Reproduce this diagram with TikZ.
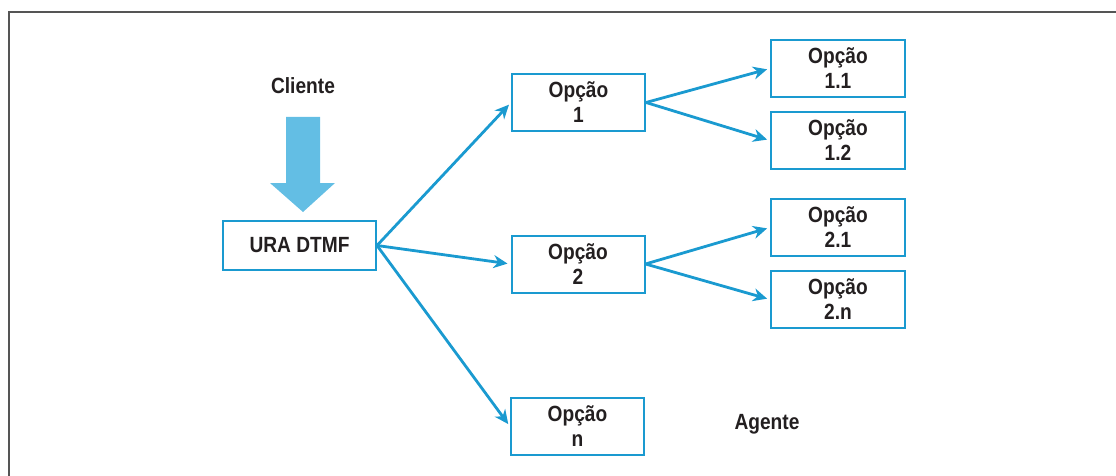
\documentclass[tikz,border=0pt]{standalone}
\usepackage{fontspec}
\setmainfont{Liberation Sans}[FakeStretch=0.87]
\usetikzlibrary{arrows.meta}
\definecolor{boxblue}{HTML}{1A9AD0}
\definecolor{lightblue}{HTML}{63BEE4}
\definecolor{ink}{HTML}{231F20}
\definecolor{framegray}{HTML}{555555}
\tikzset{
  lbl/.style={font=\fontsize{22}{25}\selectfont\bfseries, text=ink, inner sep=0pt},
  optbox/.style={draw=boxblue, line width=2pt, minimum width=133pt, minimum height=57pt,
    inner sep=0pt, align=center, font=\fontsize{22}{25}\selectfont\bfseries, text=ink},
  link/.style={draw=boxblue, line width=2.8pt,
    -{Stealth[length=14pt, width=13pt, inset=4.5pt]}, shorten >=3pt},
}
\begin{document}
\begin{tikzpicture}[x=1pt, y=-1pt]
  \useasboundingbox (0,0) rectangle (1116,476);
  % outer frame (open at the right and bottom)
  \draw[framegray, line width=2pt] (9,480) -- (9,12) -- (1120,12);

  % entry arrow from the caller
  \node[lbl, anchor=base] (cli) at (303,94) {Cliente};
  \fill[lightblue] (286,117) -- (320,117) -- (320,183) -- (335,183) -- (303,212)
    -- (270,183) -- (286,183) -- cycle;

  \node[optbox, minimum width=153pt, minimum height=49pt] (ura) at (299.5,245.5) {URA DTMF};

  \node[optbox] (o1) at (578.5,102.5) {Opção\\1};
  \node[optbox] (o2) at (578,264) {Opção\\2};
  \node[optbox] (on) at (577.5,426.5) {Opção\\n};

  \node[optbox, minimum width=134pt] (o11) at (838,68.5) {Opção\\1.1};
  \node[optbox, minimum width=134pt] (o12) at (838,140.5) {Opção\\1.2};
  \node[optbox, minimum width=134pt] (o21) at (838,227.5) {Opção\\2.1};
  \node[optbox, minimum width=134pt] (o2n) at (838,299.5) {Opção\\2.n};

  \node[lbl, anchor=base] (ag) at (767,429) {Agente};

  \draw[link] (ura.east) -- (o1.west);
  \draw[link] (ura.east) -- (o2.west);
  \draw[link] (ura.east) -- (on.west);
  \draw[link] (o1.east) -- (o11.west);
  \draw[link] (o1.east) -- (o12.west);
  \draw[link] (o2.east) -- (o21.west);
  \draw[link] (o2.east) -- (o2n.west);
\end{tikzpicture}
\end{document}
